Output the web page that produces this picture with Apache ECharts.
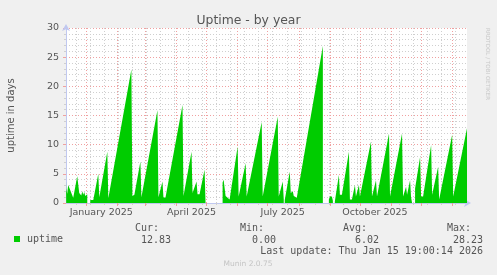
<!DOCTYPE html>
<html><head><meta charset="utf-8">
<script src="https://cdn.jsdelivr.net/npm/echarts@6/dist/echarts.min.js"></script>
<style>html,body{margin:0;padding:0;background:#f0f0f0;}#c{width:497px;height:275px;}</style>
</head><body><div id="c"></div>
<script>
const chartTitle = 'Uptime - by year';
const yAxisName = 'uptime in days';
const seriesName = 'uptime';
const rangeStart = '2024-12-11 19:00';
const rangeEnd = '2026-01-15 19:00';

const uptimeDates = [
'2024-12-11 19:00','2024-12-12','2024-12-13','2024-12-14','2024-12-19','2024-12-23','2024-12-25','2024-12-26','2024-12-27','2024-12-28','2024-12-29','2024-12-30','2024-12-31','2025-01-02','2025-01-03',
'2025-01-05','2025-01-08','2025-01-09','2025-01-13','2025-01-14','2025-01-15','2025-01-22','2025-01-23','2025-01-24',
'2025-02-15','2025-02-16','2025-02-18','2025-02-24','2025-02-25','2025-02-26',
'2025-03-13','2025-03-14','2025-03-15','2025-03-18','2025-03-19','2025-03-21',
'2025-04-07','2025-04-08','2025-04-09','2025-04-16','2025-04-17','2025-04-18','2025-04-21','2025-04-22','2025-04-24','2025-04-29','2025-04-30','2025-05-01',
'2025-05-17','2025-05-18','2025-05-20','2025-05-21','2025-05-24',
'2025-06-01','2025-06-02','2025-06-03','2025-06-09','2025-06-10','2025-06-11','2025-06-25','2025-06-26','2025-06-27',
'2025-07-11','2025-07-12','2025-07-13','2025-07-16','2025-07-17','2025-07-17 12:00','2025-07-18','2025-07-23','2025-07-24','2025-07-26','2025-07-27','2025-07-30','2025-07-31',
'2025-08-25','2025-08-26',
'2025-08-31','2025-09-01','2025-09-03','2025-09-04','2025-09-05','2025-09-06','2025-09-10','2025-09-11','2025-09-13','2025-09-20','2025-09-21','2025-09-23','2025-09-26','2025-09-27','2025-09-28','2025-09-30',
'2025-10-01','2025-10-02','2025-10-12','2025-10-13','2025-10-14','2025-10-17','2025-10-18','2025-10-19','2025-10-30','2025-10-31',
'2025-11-01','2025-11-12','2025-11-13','2025-11-14','2025-11-16','2025-11-17','2025-11-18','2025-11-20','2025-11-21','2025-11-22','2025-11-23','2025-11-25','2025-11-30',
'2025-12-01','2025-12-03','2025-12-11','2025-12-12','2025-12-13','2025-12-18','2025-12-19','2025-12-20',
'2026-01-01','2026-01-02','2026-01-03','2026-01-15 19:00'
];
const uptimeValues = [
3.9,2.5,1.6,3.1,0.9,4.6,1.7,1.9,1.3,2.0,1.4,1.9,1.2,1.5,null,
0.5,0.5,0.3,5.0,1.0,1.2,8.8,0.8,0.8,
22.9,1.2,1.4,7.1,1.0,1.1,
15.9,1.0,1.2,3.7,1.0,0.9,
16.8,1.2,1.2,8.8,1.7,1.7,3.7,1.5,1.5,5.7,5.8,null,
3.5,4.0,1.2,0.9,0.6,
9.7,1.1,1.1,6.8,1.1,1.1,13.9,1.1,1.1,
14.8,1.1,1.1,3.7,0.6,null,0.5,5.4,1.7,2.0,1.2,0.9,1.1,
26.9,null,
0.6,1.1,1.1,0.4,null,0.3,4.8,1.4,1.4,8.8,0.6,0.6,3.1,1.1,1.1,3.1,
1.1,1.1,10.5,1.1,1.1,3.9,1.1,1.1,11.9,1.1,
1.1,11.9,1.1,1.1,2.8,1.4,1.4,3.9,1.0,0.8,null,2.5,7.9,
1.1,1.1,9.9,1.4,1.4,6.2,0.6,0.6,
11.7,1.1,1.1,12.8
];

const monthGridDates = ['2025-01-01','2025-02-01','2025-03-01','2025-04-01','2025-05-01','2025-06-01','2025-07-01','2025-08-01','2025-09-01','2025-10-01','2025-11-01','2025-12-01','2026-01-01'];
const weekGridDates = ['2024-12-22','2025-01-05','2025-01-19','2025-02-02','2025-02-16','2025-03-02','2025-03-16','2025-03-30','2025-04-13','2025-04-27','2025-05-11','2025-05-25','2025-06-08','2025-06-22','2025-07-06','2025-07-20','2025-08-03','2025-08-17','2025-08-31','2025-09-14','2025-09-28','2025-10-12','2025-10-26','2025-11-09','2025-11-23','2025-12-07','2025-12-21','2026-01-04'];
const xLabelDates = ['2025-01-16','2025-04-16','2025-07-16','2025-10-16'];
const xLabelTexts = ['January 2025','April 2025','July 2025','October 2025'];
const yMin = 0, yMax = 30, yStep = 5;

const statNames = ['Cur:','Min:','Avg:','Max:'];
const statValues = ['12.83','0.00','6.02','28.23'];
const lastUpdate = 'Last update: Thu Jan 15 19:00:14 2026';
const footer = 'Munin 2.0.75';
const sideText = 'RRDTOOL / TOBI OETIKER';

function ts(s){
  const parts = s.split(' ');
  const [Y,M,D] = parts[0].split('-').map(Number);
  let h = 0, m = 0;
  if (parts[1]) { [h,m] = parts[1].split(':').map(Number); }
  return new Date(Y, M-1, D, h, m).getTime();
}

const GREEN = '#00cc00';
const TXT = '#555555';
const MAJOR = '#f0a0a0';
const MINOR = '#cfcfcf';
const AXIS = '#c0c8f0';
const labelTs = xLabelDates.map(ts);

const chart = echarts.init(document.getElementById('c'), null, {renderer:'canvas'});
const statColR = [159, 264, 367, 471];
const valColR = [171, 276, 379, 483];
const graphics = [];
statNames.forEach((t,i)=>graphics.push({type:'text', x:statColR[i], y:228, style:{text:t, fill:TXT, font:'10px "DejaVu Sans Mono"', align:'right', verticalAlign:'middle'}}));
statValues.forEach((t,i)=>graphics.push({type:'text', x:valColR[i], y:240, style:{text:t, fill:TXT, font:'10px "DejaVu Sans Mono"', align:'right', verticalAlign:'middle'}}));
graphics.push({type:'text', x:483, y:251.5, style:{text:lastUpdate, fill:TXT, font:'10px "DejaVu Sans Mono"', align:'right', verticalAlign:'middle'}});
graphics.push({type:'text', x:248, y:264, style:{text:footer, fill:'#c4c4c4', font:'7.5px "DejaVu Sans"', align:'center', verticalAlign:'middle'}});
graphics.push({type:'text', x:487, y:28, rotation:-Math.PI/2, style:{text:sideText, fill:'#c8c8c8', font:'5.6px "DejaVu Sans"', align:'left', verticalAlign:'middle'}});

const xBase = {type:'value', position:'bottom', min:ts(rangeStart), max:ts(rangeEnd), splitLine:{show:false}, minorTick:{show:false}, minorSplitLine:{show:false}};

chart.setOption({
  animation:false,
  backgroundColor:'#f0f0f0',
  title:{text:chartTitle, left:'center', top:10, textStyle:{fontFamily:'DejaVu Sans', fontSize:12.4, fontWeight:'normal', color:TXT}},
  grid:{left:66, right:30, top:28, bottom:72, show:true, backgroundColor:'#ffffff', borderWidth:0, containLabel:false, outerBoundsMode:'none'},
  legend:{data:[seriesName], left:14, top:234, padding:0, icon:'rect', itemWidth:6, itemHeight:6, selectedMode:false,
    textStyle:{fontFamily:'DejaVu Sans Mono', fontSize:10, color:TXT, padding:[0,0,0,2]}},
  xAxis:[Object.assign({}, xBase, {
    axisLine:{show:true, lineStyle:{color:AXIS}, symbol:['none','arrow'], symbolSize:[6,7], symbolOffset:[0,4]},
    axisTick:{show:true, length:3, customValues:monthGridDates.map(ts), lineStyle:{color:MAJOR}},
    axisLabel:{show:true, customValues:labelTs, margin:5, fontFamily:'DejaVu Sans', fontSize:9.5, color:TXT, hideOverlap:false,
      formatter:function(v){let b=0,bd=Infinity;labelTs.forEach((t,i)=>{const d=Math.abs(t-v);if(d<bd){bd=d;b=i;}});return xLabelTexts[b];}}
  }), Object.assign({}, xBase, {
    axisLine:{show:false},
    axisTick:{show:true, length:2, customValues:weekGridDates.map(ts), lineStyle:{color:MINOR}},
    axisLabel:{show:false}
  })],
  yAxis:{
    type:'value', min:yMin, max:yMax, interval:yStep,
    name:yAxisName, nameLocation:'middle', nameGap:50,
    nameTextStyle:{fontFamily:'DejaVu Sans', fontSize:10, color:TXT},
    axisLine:{show:true, lineStyle:{color:AXIS}, symbol:['none','arrow'], symbolSize:[6,7], symbolOffset:[0,4]},
    axisTick:{show:true, length:3, lineStyle:{color:MAJOR}},
    minorTick:{show:true, splitNumber:5, length:2, lineStyle:{color:MINOR}},
    axisLabel:{fontFamily:'DejaVu Sans', fontSize:9.5, color:TXT, margin:7},
    splitLine:{show:true, lineStyle:{color:MAJOR, type:[1,2], width:1}},
    minorSplitLine:{show:true, lineStyle:{color:MINOR, type:[1,2], width:1}}
  },
  graphic:graphics,
  series:[{
    type:'line', data:[], z:1, silent:true, xAxisIndex:0,
    markLine:{z:1, zlevel:0, silent:true, symbol:'none', animation:false, label:{show:false}, emphasis:{disabled:true},
      data:[].concat(
        weekGridDates.map(d=>({xAxis:ts(d), lineStyle:{color:MINOR, type:[1,2], width:1}})),
        monthGridDates.map(d=>({xAxis:ts(d), lineStyle:{color:MAJOR, type:[1,2], width:1}}))
      )}
  },{
    type:'line', name:seriesName, xAxisIndex:0, z:10,
    data:uptimeDates.map((d,i)=>[ts(d), uptimeValues[i]]),
    showSymbol:false, symbol:'none', connectNulls:false,
    lineStyle:{width:0, color:GREEN}, itemStyle:{color:GREEN},
    areaStyle:{color:GREEN, opacity:1}
  }]
});
</script></body></html>
